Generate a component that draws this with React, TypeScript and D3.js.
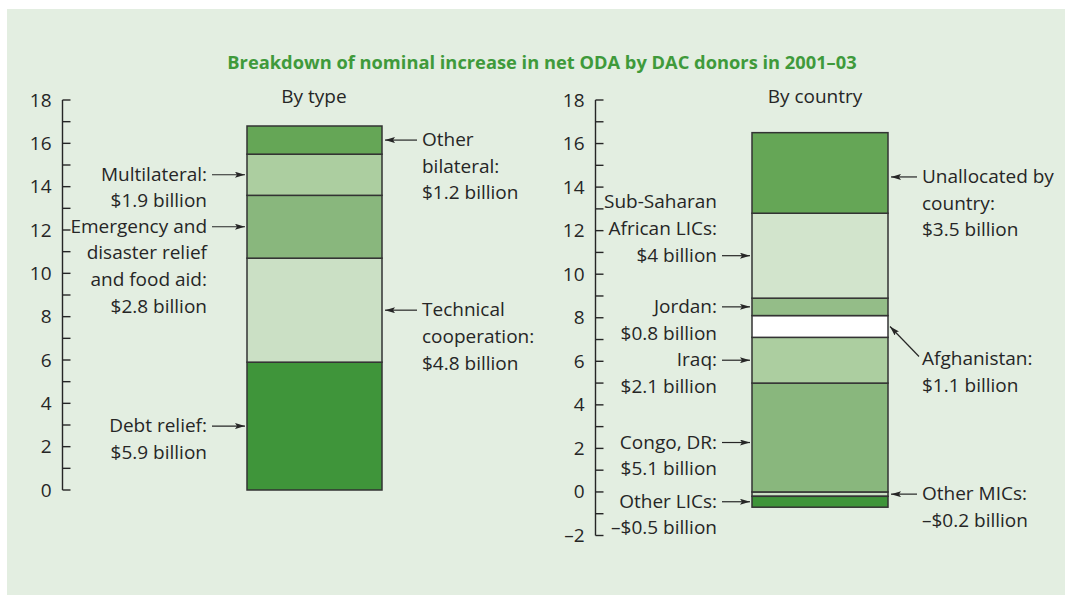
import React from 'react';
import * as d3 from 'd3';

const W = 1065;
const H = 595;

// ---------- Data ----------
const titleText = 'Breakdown of nominal increase in net ODA by DAC donors in 2001–03';

const typeCategories = ['Debt relief', 'Technical cooperation', 'Emergency and disaster relief and food aid', 'Multilateral', 'Other bilateral'];
const typeValues = [5.9, 4.8, 2.9, 1.9, 1.3];
const typeLabels = [
  ['Debt relief:', '$5.9 billion'],
  ['Technical', 'cooperation:', '$4.8 billion'],
  ['Emergency and', 'disaster relief', 'and food aid:', '$2.8 billion'],
  ['Multilateral:', '$1.9 billion'],
  ['Other', 'bilateral:', '$1.2 billion'],
];

const countryCategories = ['Other MICs', 'Other LICs', 'Congo, DR', 'Iraq', 'Afghanistan', 'Jordan', 'Sub-Saharan African LICs', 'Unallocated by country'];
const countryValues = [-0.2, -0.5, 5.0, 2.1, 1.0, 0.8, 3.9, 3.7];
const countryLabels = [
  ['Other MICs:', '–$0.2 billion'],
  ['Other LICs:', '–$0.5 billion'],
  ['Congo, DR:', '$5.1 billion'],
  ['Iraq:', '$2.1 billion'],
  ['Afghanistan:', '$1.1 billion'],
  ['Jordan:', '$0.8 billion'],
  ['Sub-Saharan', 'African LICs:', '$4 billion'],
  ['Unallocated by', 'country:', '$3.5 billion'],
];

const typeTicks = d3.range(0, 19, 1);
const countryTicks = d3.range(-2, 19, 1);
const typeTickLabels = d3.range(0, 19, 2);
const countryTickLabels = d3.range(-2, 19, 2);

// ---------- Styles ----------
const C_DARK = '#3f953a';
const C_MEDDARK = '#65a656';
const C_MED = '#89b77d';
const C_LIGHT = '#accea0';
const C_PALE = '#cbe0c5';
const typeColors = [C_DARK, C_PALE, C_MED, C_LIGHT, C_MEDDARK];
const countryColors = [C_PALE, C_DARK, C_MED, C_LIGHT, '#ffffff', '#94bd88', '#d2e4cc', C_MEDDARK];

// annotation layout: side, which line the arrow points from, extra vertical shift
const typeLayout = [
  { side: 'left', anchor: 0, dy: 0 },
  { side: 'right', anchor: 0, dy: 0 },
  { side: 'left', anchor: 0, dy: 0 },
  { side: 'left', anchor: 0, dy: 0 },
  { side: 'right', anchor: 0, dy: 0 },
];
const countryLayout = [
  { side: 'right', anchor: 0, dy: 0 },
  { side: 'left', anchor: 0, dy: 0 },
  { side: 'left', anchor: 0, dy: 5 },
  { side: 'left', anchor: 0, dy: 0 },
  { side: 'diag', anchor: 0, dy: 0 },
  { side: 'left', anchor: 0, dy: 0 },
  { side: 'left', anchor: 2, dy: 0 },
  { side: 'right', anchor: 0, dy: 4 },
];

const FONT = "'Open Sans', 'Noto Sans', sans-serif";
const TEXT = '#262626';
const LINE_H = 26.7;
const FS = 19;

type Panel = {
  categories: string[];
  values: number[];
  labels: string[][];
  colors: string[];
  layout: { side: string; anchor: number; dy: number }[];
  domain: [number, number];
  range: [number, number];
  ticks: number[];
  tickLabels: number[];
  axisX: number;
  barX: [number, number];
  subtitle: string;
  subtitleX: number;
  leftGap: number;
  rightGap: number;
};

function stackSegments(categories: string[], values: number[]) {
  const row: Record<string, number> = {};
  categories.forEach((c, i) => (row[c] = values[i]));
  const series = d3.stack<Record<string, number>>().keys(categories).offset(d3.stackOffsetDiverging)([row]);
  return series.map((s) => {
    const a = s[0][0];
    const b = s[0][1];
    return { lo: Math.min(a, b), hi: Math.max(a, b) };
  });
}

function StackPanel({ p }: { p: Panel }) {
  const y = d3.scaleLinear().domain(p.domain).range(p.range);
  const x = d3.scaleLinear().domain([0, 1]).range(p.barX);
  const segs = stackSegments(p.categories, p.values);
  const x0 = x(0);
  const x1 = x(1);
  const ann: React.ReactNode[] = [];
  segs.forEach((s, i) => {
    const lay = p.layout[i];
    const lines = p.labels[i];
    const ay = y((s.lo + s.hi) / 2) + lay.dy;
    if (lay.side === 'left') {
      const tx = x0 - p.leftGap;
      const base = ay + 6 - lay.anchor * LINE_H;
      ann.push(
        <g key={'a' + i}>
          <line x1={tx + 5} x2={x0 - 2} y1={ay} y2={ay} stroke={TEXT} strokeWidth={1.2} markerEnd="url(#arr)" />
          {lines.map((l, k) => (
            <text key={k} x={tx} y={base + k * LINE_H} textAnchor="end">{l}</text>
          ))}
        </g>
      );
    } else if (lay.side === 'right') {
      const tx = x1 + p.rightGap;
      const base = ay + 6 - lay.anchor * LINE_H;
      ann.push(
        <g key={'a' + i}>
          <line x1={tx - 5} x2={x1 + 3} y1={ay} y2={ay} stroke={TEXT} strokeWidth={1.2} markerEnd="url(#arr)" />
          {lines.map((l, k) => (
            <text key={k} x={tx} y={base + k * LINE_H} textAnchor="start">{l}</text>
          ))}
        </g>
      );
    } else {
      const tx = x1 + p.rightGap;
      const tailX = tx - 3;
      const tailY = ay + 30;
      const base = ay + 38.5;
      ann.push(
        <g key={'a' + i}>
          <line x1={tailX} y1={tailY} x2={x1 + 2} y2={ay} stroke={TEXT} strokeWidth={1.2} markerEnd="url(#arr)" />
          {lines.map((l, k) => (
            <text key={k} x={tx} y={base + k * LINE_H} textAnchor="start">{l}</text>
          ))}
        </g>
      );
    }
  });

  const [dMin, dMax] = p.domain;
  return (
    <g fontFamily={FONT} fontSize={FS} fill={TEXT}>
      <text x={p.subtitleX} y={102.5} textAnchor="middle">{p.subtitle}</text>
      {/* axis */}
      <line x1={p.axisX} x2={p.axisX} y1={y(dMax)} y2={y(dMin)} stroke={TEXT} strokeWidth={1.4} />
      {p.ticks.map((t) => (
        <line key={t} x1={p.axisX} x2={p.axisX + 8} y1={y(t)} y2={y(t)} stroke={TEXT} strokeWidth={1.4} />
      ))}
      {p.tickLabels.map((t) => (
        <text key={'l' + t} x={p.axisX - 11} y={y(t) + 6.5} textAnchor="end">{t < 0 ? '–' + Math.abs(t) : t}</text>
      ))}
      {/* bars */}
      {segs.map((s, i) => (
        <rect key={p.categories[i]} x={x0} width={x1 - x0} y={y(s.hi)} height={y(s.lo) - y(s.hi)} fill={p.colors[i]} stroke="#333" strokeWidth={1.5} />
      ))}
      {ann}
    </g>
  );
}

export default function App() {
  const left: Panel = {
    categories: typeCategories,
    values: typeValues,
    labels: typeLabels,
    colors: typeColors,
    layout: typeLayout,
    domain: [0, 18],
    range: [490, 100],
    ticks: typeTicks,
    tickLabels: typeTickLabels,
    axisX: 62.5,
    barX: [247, 382],
    subtitle: 'By type',
    subtitleX: 314,
    leftGap: 40,
    rightGap: 40,
  };
  const right: Panel = {
    categories: countryCategories,
    values: countryValues,
    labels: countryLabels,
    colors: countryColors,
    layout: countryLayout,
    domain: [-2, 18],
    range: [535.5, 100],
    ticks: countryTicks,
    tickLabels: countryTickLabels,
    axisX: 595.5,
    barX: [752, 888],
    subtitle: 'By country',
    subtitleX: 815,
    leftGap: 35,
    rightGap: 34,
  };
  return (
    <svg width={W} height={H} style={{ position: 'absolute', left: 0, top: 0 }}>
      <defs>
        <marker id="arr" viewBox="0 0 10 6" refX="10" refY="3" markerWidth="10" markerHeight="6" markerUnits="userSpaceOnUse" orient="auto">
          <path d="M0,0 L10,3 L0,6 L2,3 z" fill={TEXT} />
        </marker>
      </defs>
      <rect x={0} y={0} width={W} height={H} fill="#ffffff" />
      <rect x={7} y={9} width={W - 7} height={H - 9} fill="#e3eee1" />
      <text x={542} y={69} textAnchor="middle" fontFamily={FONT} fontWeight="bold" fontSize={18.3} fill="#3f9a3b">{titleText}</text>
      <StackPanel p={left} />
      <StackPanel p={right} />
    </svg>
  );
}
